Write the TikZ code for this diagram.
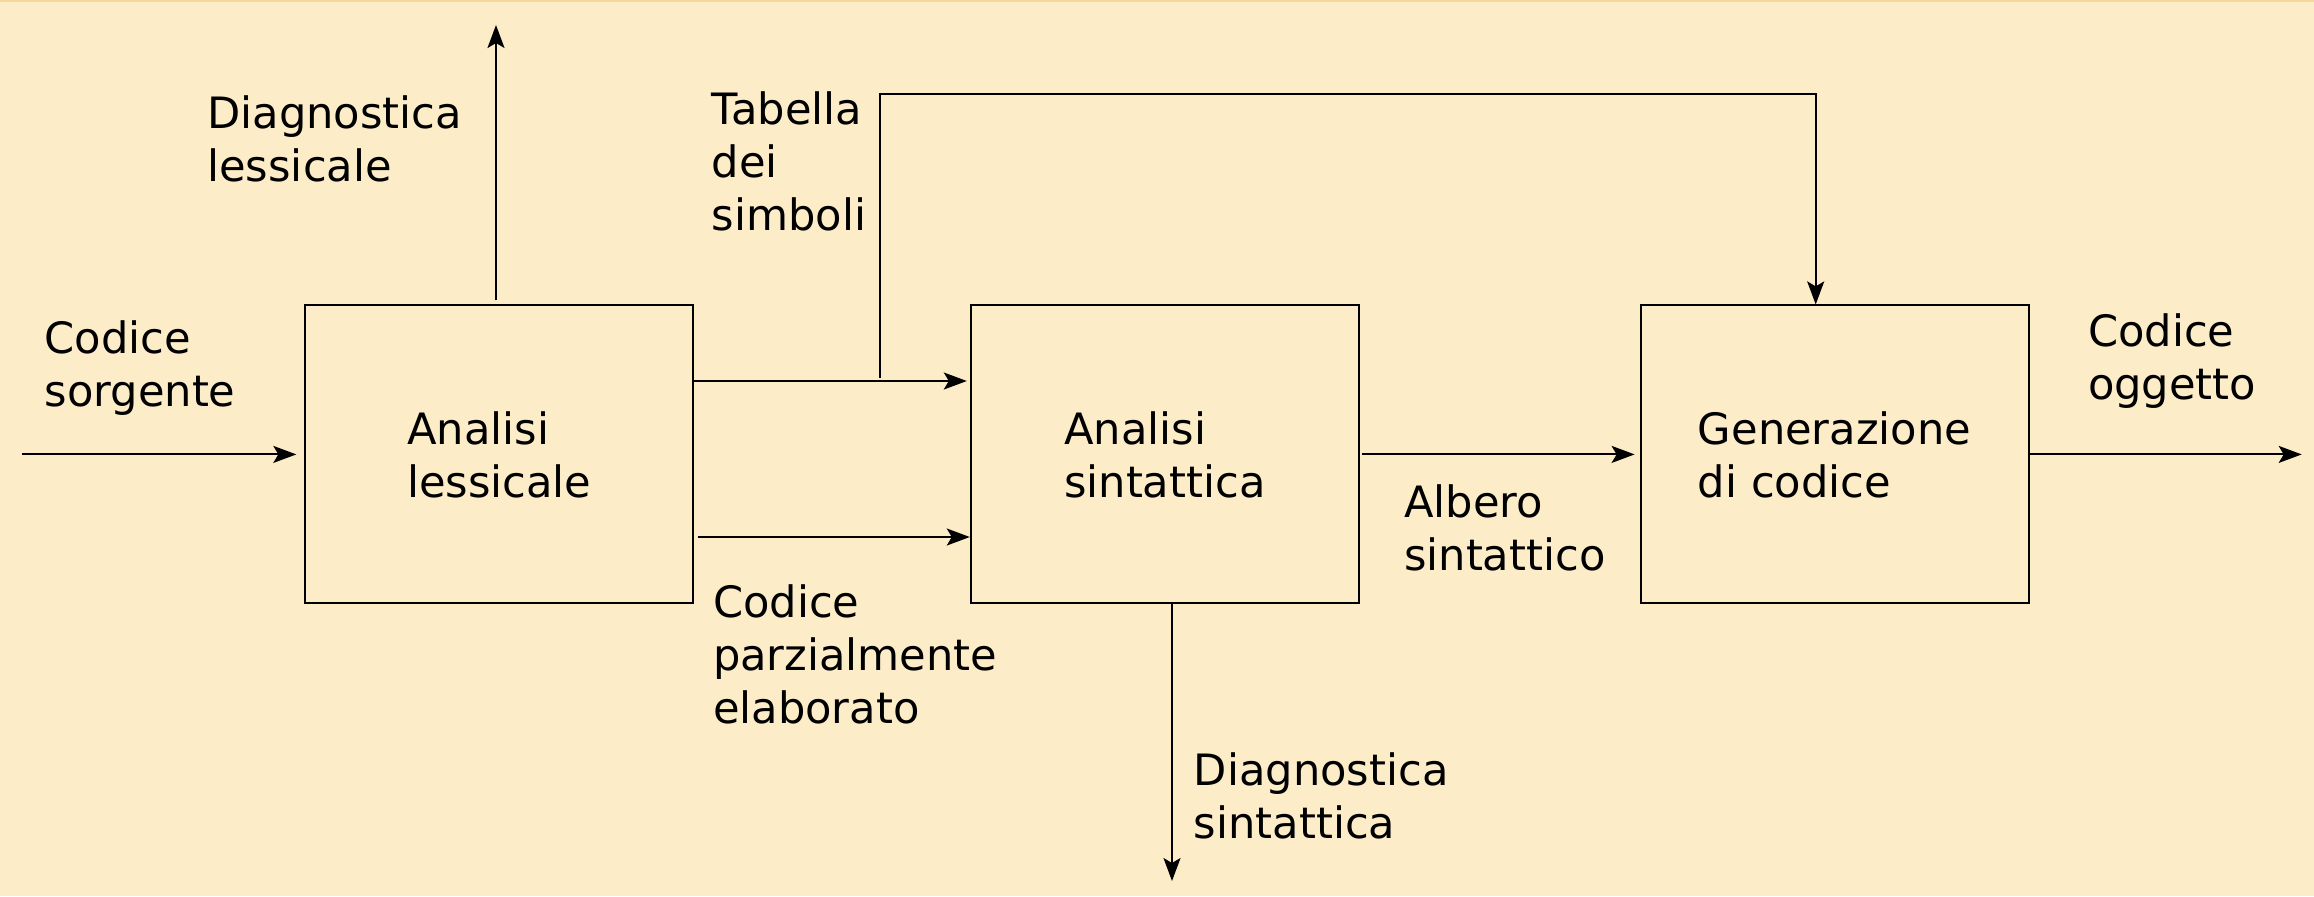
\documentclass[tikz,border=0pt]{standalone}
\usepackage{fontspec}
\setmainfont{DejaVu Sans}
\usetikzlibrary{arrows.meta}
\definecolor{bg}{RGB}{252,237,200}
\definecolor{topline}{RGB}{247,214,150}
\newcommand{\lh}{\rule{0pt}{20pt}}
\begin{document}
\begin{tikzpicture}[x=0.5pt,y=-0.5pt,
  every node/.style={font=\fontsize{21.6pt}{26.5pt}\selectfont},
  stage/.style={draw,line width=1pt,minimum width=194pt,minimum height=149pt,align=left,inner sep=0pt},
  lbl/.style={anchor=north west,align=left,inner sep=0pt},
  arr/.style={line width=1pt,-{Stealth[length=11.5pt,width=8.5pt,inset=2.5pt]}}]
\useasboundingbox (0,0) rectangle (2314,896);
\fill[bg] (0,0) rectangle (2314,896);
\fill[topline] (0,0) rectangle (2314,2);

\node[stage] (b1) at (499.3,454.4) {Analisi\\lessicale};
\node[stage] (b2) at (1164.8,454.4) {Analisi\\sintattica};
\node[stage] (b3) at (1834.6,454.4) {Generazione\\di codice};

\node[lbl] (l1) at (44.3,313) {\lh Codice\\sorgente};
\node[lbl] (l2) at (207,88) {\lh Diagnostica\\lessicale};
\node[lbl] (l3) at (711.5,84) {\lh Tabella\\dei\\simboli};
\node[lbl] (l4) at (712.6,576.7) {\lh Codice\\parzialmente\\elaborato};
\node[lbl] (l5) at (1403.7,476.7) {\lh Albero\\sintattico};
\node[lbl] (l6) at (1193.5,745) {\lh Diagnostica\\sintattica};
\node[lbl] (l7) at (2087.6,306) {\lh Codice\\oggetto};

\coordinate (src) at (22,454.4);
\draw[arr,shorten >=4pt] (src) -- (b1.west);
\coordinate (ld) at (496,25);
\draw[arr,shorten <=2pt] (b1.north -| ld) -- (ld);
\coordinate (y1) at (0,381);
\draw[arr,shorten >=1.5pt] (b1.east |- y1) -- (b2.west |- y1);
\coordinate (tb) at (880,378);
\coordinate (tc) at (1815.7,94);
\draw[arr] (tb) |- (tc) -- (tc |- b3.north);
\coordinate (y2) at (0,537);
\draw[arr,shorten <=1.75pt] (b1.east |- y2) -- (b2.west |- y2);
\draw[arr,shorten <=1pt,shorten >=2.5pt] (b2.east) -- (b3.west);
\coordinate (sd) at (1172,881);
\draw[arr] (b2.south -| sd) -- (sd);
\coordinate (out) at (2301.7,454.4);
\draw[arr] (b3.east) -- (out);
\end{tikzpicture}
\end{document}
